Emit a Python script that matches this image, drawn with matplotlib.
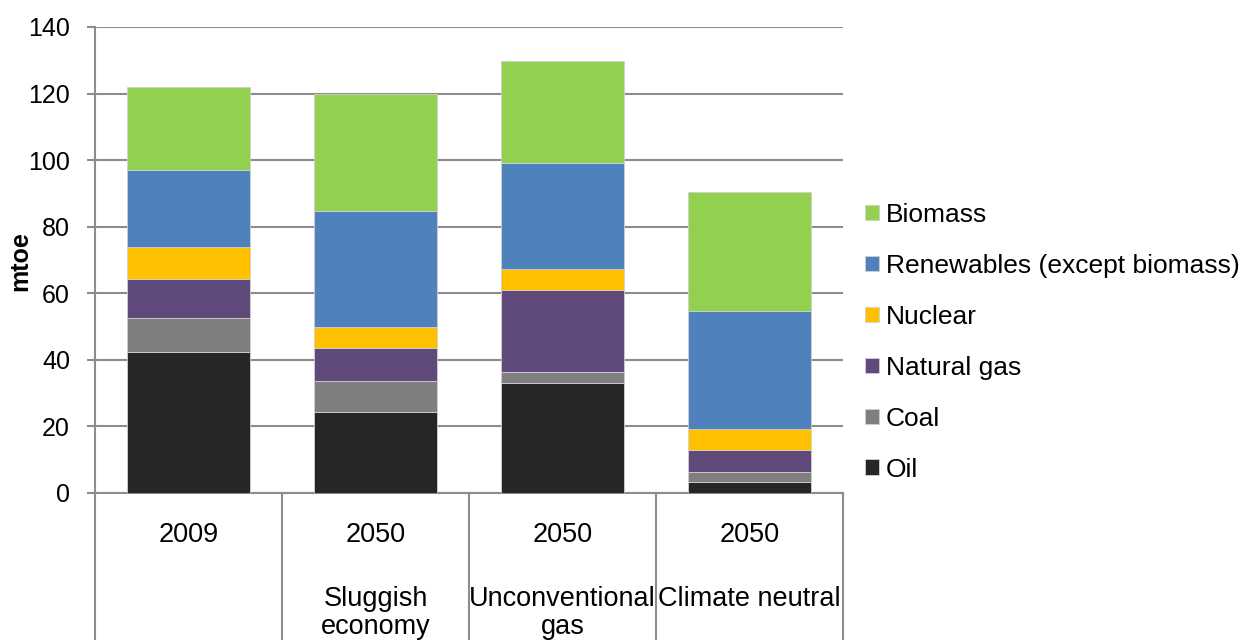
import matplotlib
matplotlib.use("Agg")
import matplotlib.pyplot as plt
import matplotlib.transforms as mtransforms
import numpy as np

plt.rcParams['font.family'] = ['Liberation Sans', 'DejaVu Sans']

years = ["2009", "2050", "2050", "2050"]
scenarios = ["", "Sluggish\neconomy", "Unconventional\ngas", "Climate neutral"]
series_names = ["Oil", "Coal", "Natural gas", "Nuclear", "Renewables (except biomass)", "Biomass"]
oil = [42.5, 24.2, 32.9, 3.2]
coal = [10.1, 9.4, 3.4, 3.1]
natural_gas = [11.8, 10.1, 24.8, 6.5]
nuclear = [9.5, 6.2, 6.1, 6.5]
renewables = [23.2, 34.9, 31.9, 35.5]
biomass = [25.0, 35.1, 30.8, 35.6]
colors = ["#262626", "#7f7f7f", "#604a7b", "#ffc000", "#4f81bd", "#92d050"]
yticks = [0, 20, 40, 60, 80, 100, 120, 140]

data = [oil, coal, natural_gas, nuclear, renewables, biomass]

fig = plt.figure(figsize=(12.54, 6.4), dpi=100)
W, H = 1254, 640
ax_h = 493 - 27
ax = fig.add_axes([95 / W, (640 - 493) / H, (843 - 95) / W, ax_h / H])

x = np.arange(len(years))
bottom = np.zeros(len(years))
handles = []
for vals, name, c in zip(data, series_names, colors):
    b = ax.bar(x, vals, width=0.66, bottom=bottom, color=c, edgecolor="#d0d0d0",
               linewidth=0.6, label=name, zorder=3)
    handles.append(b)
    bottom += np.array(vals)

ax.set_xlim(-0.5, 3.5)
ax.set_ylim(0, 140)
ax.set_yticks(yticks)
ax.set_yticklabels([str(t) for t in yticks], fontsize=18)
ax.yaxis.grid(True, color="#8c8c8c", linewidth=1.5, zorder=0)
ax.set_axisbelow(True)
ax.tick_params(axis="y", direction="out", length=6, width=1.5, color="#8c8c8c", pad=12)
ax.set_xticks([])
for s in ["top", "right"]:
    ax.spines[s].set_visible(False)
ax.spines["left"].set_color("#8c8c8c")
ax.spines["left"].set_linewidth(1.5)
ax.spines["bottom"].set_color("#8c8c8c")
ax.spines["bottom"].set_linewidth(1.5)
fig.text(20 / W, 1 - 261 / H, "mtoe", rotation=90, ha="center", va="center",
         fontsize=18, fontweight="bold")

# category separators below axis
trans = mtransforms.blended_transform_factory(ax.transData, ax.transAxes)
ybot = -(640 - 493) / ax_h
for sx in np.arange(-0.5, 4.0, 1.0):
    ax.plot([sx, sx], [0, ybot], transform=trans, color="#8c8c8c", lw=1.5, clip_on=False)

line_y = [535, 599, 627]
for xi, (yr, sc) in enumerate(zip(years, scenarios)):
    lines = [yr] + ([l for l in sc.split("\n")] if sc else [])
    for li, txt in enumerate(lines):
        ax.text(xi, -(line_y[li] - 493) / ax_h, txt, transform=trans, ha="center",
                va="center", fontsize=19.5)

leg = fig.legend(handles[::-1], series_names[::-1], loc="upper left",
                 bbox_to_anchor=(865 / W, 1 - 203 / H), frameon=False, fontsize=19,
                 handlelength=0.53, handleheight=0.53, handletextpad=0.27, labelspacing=1.02,
                 borderaxespad=0, borderpad=0)

fig.savefig("out.png", dpi=100)
